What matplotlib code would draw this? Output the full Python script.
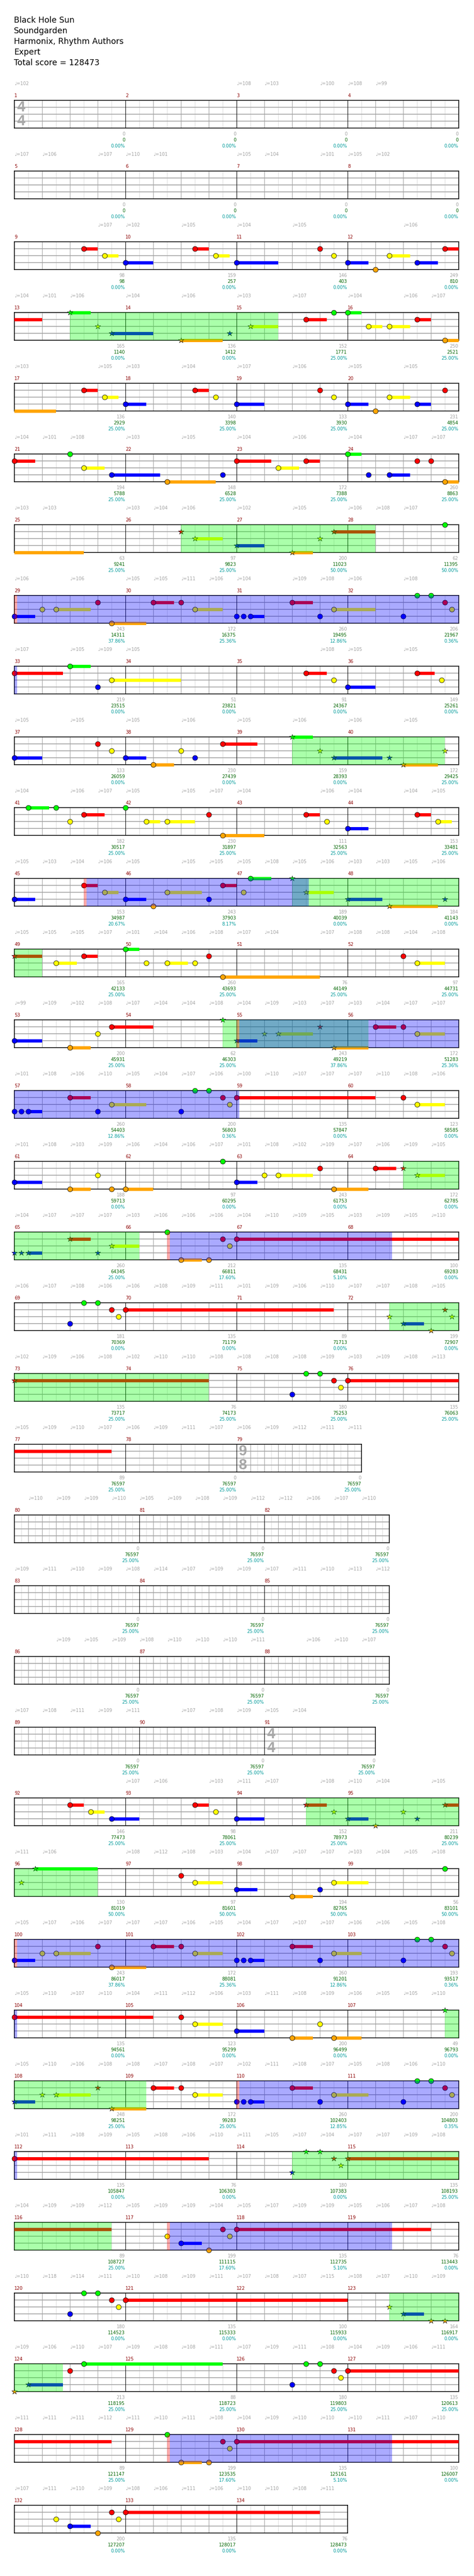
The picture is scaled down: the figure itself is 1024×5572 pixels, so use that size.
import matplotlib.pyplot as plt

# ---- song info ----
title_lines = ["Black Hole Sun", "Soundgarden", "Harmonix, Rhythm Authors", "Expert",
               "Total score = 128473"]

n_measures = 134
time_sigs = {1: (4, 4), 79: (9, 8), 91: (4, 4)}

# lanes: 0 green, 1 red, 2 yellow, 3 blue, 4 orange
lane_colors = ['#00ff00', '#ff0000', '#ffff00', '#0000ff', '#ffa500']

# notes: (measure, beat, lane, sustain length in beats)
notes = [
    (9, 2.5, 1, 0.5), (9, 3.25, 2, 0.5), (10, 0, 3, 1), (10, 2.5, 1, 0.5), (10, 3.25, 2, 0.5),
    (11, 0, 3, 1.5), (11, 3, 1, 0), (11, 3.5, 2, 0), (12, 0, 3, 0.75), (12, 1, 4, 0),
    (12, 1.5, 2, 0.75), (12, 2.5, 3, 0.75), (12, 3.5, 1, 1.5),
    (13, 2, 0, 0.75), (13, 3, 2, 0), (13, 3.5, 3, 1.5), (14, 2, 4, 1.5), (14, 3.75, 3, 0),
    (15, 0.5, 2, 1), (15, 2.5, 1, 0.75), (15, 3.5, 0, 0), (16, 0, 0, 0.5), (16, 0.75, 2, 0.5),
    (16, 1.5, 2, 0.75), (16, 2.5, 1, 0.5), (16, 3.5, 4, 2.0),
    (17, 2.5, 1, 0.5), (17, 3.25, 2, 0.5), (18, 0, 3, 0.75), (18, 2.5, 1, 0.5), (18, 3.25, 2, 0),
    (19, 0, 3, 1), (19, 3, 1, 0), (19, 3.5, 2, 0), (20, 0, 3, 0.75), (20, 1, 4, 0),
    (20, 1.5, 2, 0.75), (20, 2.5, 3, 0.5), (20, 3.5, 1, 0),
    (21, 0, 1, 0.75), (21, 2, 0, 0), (21, 2.5, 2, 0.75), (21, 3.5, 3, 1.75), (22, 1.5, 4, 1.75),
    (22, 3.5, 3, 0), (23, 0, 1, 1.25), (23, 1.5, 2, 0.75), (23, 2.5, 1, 0.5), (24, 0, 0, 0.5),
    (24, 0.75, 3, 0), (24, 1.5, 3, 0.75), (24, 2.5, 1, 0), (24, 3, 1, 0), (24, 3.5, 4, 3.0),
    (26, 2, 1, 0), (26, 2.5, 2, 1), (27, 0, 3, 1), (27, 2, 4, 0.75), (27, 3, 2, 0),
    (27, 3.5, 1, 1.5), (28, 3.5, 0, 0),
    (29, 0, 3, 0.75), (29, 1, 2, 0), (29, 1.5, 2, 1.25), (29, 3, 1, 0), (29, 3.5, 4, 1.25),
    (30, 1, 1, 0.75), (30, 2, 1, 0), (30, 2.5, 2, 1), (31, 0, 3, 0), (31, 0.25, 3, 0),
    (31, 0.5, 3, 0.5), (31, 2, 1, 0.75), (31, 3, 3, 0), (31, 3.5, 2, 1.5), (32, 2, 3, 0),
    (32, 2.5, 0, 0), (32, 3, 0, 0), (32, 3.5, 1, 0), (32, 3.75, 2, 0),
    (33, 0, 1, 1.75), (33, 2, 0, 0.75), (33, 3, 3, 0), (33, 3.5, 2, 2.5), (35, 2.5, 1, 0.75),
    (35, 3.5, 2, 0), (36, 0, 3, 1), (36, 2.5, 1, 0.625), (36, 3.375, 2, 0),
    (37, 0, 3, 1), (37, 3, 1, 0), (37, 3.5, 2, 0), (38, 0, 3, 0.75), (38, 1, 4, 0.75),
    (38, 2, 2, 0), (38, 2.5, 3, 0), (38, 3.5, 1, 1.25), (39, 2, 0, 0.75), (39, 3, 2, 0),
    (39, 3.5, 3, 1.75), (40, 1.5, 3, 0), (40, 2, 4, 1.25), (40, 3.5, 2, 0),
    (41, 0.5, 0, 0.75), (41, 1.5, 0, 0), (41, 2, 2, 0), (41, 2.5, 1, 0.75), (42, 0, 0, 0),
    (42, 0.75, 2, 0.5), (42, 1.5, 2, 1), (42, 3, 1, 0), (42, 3.5, 4, 1.5), (43, 2.5, 1, 0.5),
    (43, 3.25, 2, 0), (44, 0, 3, 0.75), (44, 2.5, 1, 0.5), (44, 3.25, 2, 0.5),
    (45, 0, 3, 0.75), (45, 2.5, 1, 0.5), (45, 3.25, 2, 0.5), (46, 0, 3, 0.75), (46, 1, 4, 0),
    (46, 1.5, 2, 1.25), (46, 3, 3, 0), (46, 3.5, 1, 0.5), (47, 0.25, 2, 0), (47, 0.5, 0, 0.75),
    (47, 2, 0, 0), (47, 2.5, 2, 1), (48, 0, 3, 1.25), (48, 1.5, 4, 1.75), (48, 3.5, 3, 0),
    (49, 0, 1, 1), (49, 1.5, 2, 0.75), (49, 2.5, 1, 0.5), (50, 0, 0, 0.5), (50, 0.75, 2, 0),
    (50, 1.5, 2, 0.75), (50, 2.5, 2, 0), (50, 3, 1, 0), (50, 3.5, 4, 3.5), (52, 2, 1, 0),
    (52, 2.5, 2, 1),
    (53, 0, 3, 1), (53, 2, 4, 0.75), (53, 3, 2, 0), (53, 3.5, 1, 1.5), (54, 3.5, 0, 0),
    (55, 0, 3, 0.75), (55, 1, 2, 0), (55, 1.5, 2, 1.25), (55, 3, 1, 0), (55, 3.5, 4, 1.25),
    (56, 1, 1, 0.75), (56, 2, 1, 0), (56, 2.5, 2, 1),
    (57, 0, 3, 0), (57, 0.25, 3, 0), (57, 0.5, 3, 0.5), (57, 2, 1, 0.75), (57, 3, 3, 0),
    (57, 3.5, 2, 1.25), (58, 2, 3, 0), (58, 2.5, 0, 0), (58, 3, 0, 0), (58, 3.5, 1, 0),
    (58, 3.75, 2, 0), (59, 0, 1, 5), (60, 2, 1, 0), (60, 2.5, 2, 1),
    (61, 0, 3, 1), (61, 2, 4, 0.75), (61, 3, 2, 0), (61, 3.5, 4, 0), (62, 0, 4, 1),
    (62, 3.5, 0, 0), (63, 0, 3, 0.75), (63, 1, 2, 0), (63, 1.5, 2, 1.25), (63, 3, 1, 0),
    (63, 3.5, 4, 1.25), (64, 1, 1, 0.75), (64, 2, 1, 0), (64, 2.5, 2, 1),
    (65, 0, 3, 0), (65, 0.25, 3, 0), (65, 0.5, 3, 0.5), (65, 2, 1, 0.75), (65, 3, 3, 0),
    (65, 3.5, 2, 1), (66, 1.5, 0, 0), (66, 2, 4, 0.75), (66, 3, 4, 0), (66, 3.5, 1, 0),
    (66, 3.75, 2, 0), (67, 0, 1, 8),
    (69, 2, 3, 0), (69, 2.5, 0, 0), (69, 3, 0, 0), (69, 3.5, 1, 0), (69, 3.75, 2, 0),
    (70, 0, 1, 7.5), (72, 1.5, 2, 0), (72, 2, 3, 0.75), (72, 3, 4, 0), (72, 3.5, 1, 0),
    (72, 3.75, 2, 0),
    (73, 0, 1, 7), (75, 2, 3, 0), (75, 2.5, 0, 0), (75, 3, 0, 0), (75, 3.5, 1, 0),
    (75, 3.75, 2, 0), (76, 0, 1, 7.5),
    (92, 2, 1, 0.5), (92, 2.75, 2, 0.5), (92, 3.5, 3, 1), (93, 2.5, 1, 0.5), (93, 3.25, 2, 0),
    (94, 0, 3, 1), (94, 2.5, 1, 0.75), (94, 3.5, 2, 0), (95, 0, 3, 0.75), (95, 1, 4, 0),
    (95, 2, 2, 0), (95, 2.5, 3, 0), (95, 3.5, 1, 0.5),
    (96, 0.25, 2, 0), (96, 0.75, 0, 2.25), (97, 2, 1, 0), (97, 2.5, 2, 1), (98, 0, 3, 0.75),
    (98, 2, 4, 0.75), (98, 3, 3, 0), (98, 3.5, 2, 1.25), (99, 3.5, 0, 0),
    (100, 0, 3, 0.75), (100, 1, 2, 0), (100, 1.5, 2, 1.25), (100, 3, 1, 0), (100, 3.5, 4, 1.25),
    (101, 1, 1, 0.75), (101, 2, 1, 0), (101, 2.5, 2, 1), (102, 0, 3, 0), (102, 0.25, 3, 0),
    (102, 0.5, 3, 0.5), (102, 2, 1, 0.75), (102, 3, 3, 0), (102, 3.5, 2, 1), (103, 2, 3, 0),
    (103, 2.5, 0, 0), (103, 3, 0, 0), (103, 3.5, 1, 0), (103, 3.75, 2, 0),
    (104, 0, 1, 5), (105, 2, 1, 0), (105, 2.5, 2, 1), (106, 0, 3, 1), (106, 2, 4, 0.75),
    (106, 3, 2, 0), (106, 3.5, 4, 1), (107, 3.5, 0, 0),
    (108, 0, 3, 0.75), (108, 1, 2, 0), (108, 1.5, 2, 1.25), (108, 3, 1, 0), (108, 3.5, 4, 1.25),
    (109, 1, 1, 0.75), (109, 2, 1, 0), (109, 2.5, 2, 1), (110, 0, 3, 0), (110, 0.25, 3, 0),
    (110, 0.5, 3, 0.5), (110, 2, 1, 0.75), (110, 3, 3, 0), (110, 3.5, 2, 1.25), (111, 2, 3, 0),
    (111, 2.5, 0, 0), (111, 3, 0, 0), (111, 3.5, 1, 0), (111, 3.75, 2, 0),
    (112, 0, 1, 7), (114, 2, 3, 0), (114, 2.5, 0, 0), (114, 3, 0, 0), (114, 3.5, 1, 0),
    (114, 3.75, 2, 0), (115, 0, 1, 7.5),
    (117, 1.5, 2, 0), (117, 2, 3, 0.75), (117, 3, 4, 0), (117, 3.5, 1, 0), (117, 3.75, 2, 0),
    (118, 0, 1, 7),
    (120, 2, 3, 0), (120, 2.5, 0, 0), (120, 3, 0, 0), (120, 3.5, 1, 0), (120, 3.75, 2, 0),
    (121, 0, 1, 8), (123, 1.5, 2, 0), (123, 2, 3, 0.75), (123, 3, 4, 0), (123, 3.5, 4, 0),
    (124, 0, 4, 0), (124, 0.5, 3, 1.25), (124, 2, 1, 0), (124, 2.5, 0, 5), (126, 2, 3, 0),
    (126, 2.5, 0, 0), (126, 3, 0, 0), (126, 3.5, 1, 0), (126, 3.75, 2, 0), (127, 0, 1, 7.5),
    (129, 1.5, 0, 0), (129, 2, 4, 0.75), (129, 3, 4, 0), (129, 3.5, 1, 0), (129, 3.75, 2, 0),
    (130, 0, 1, 8),
    (132, 1.5, 2, 0), (132, 2, 3, 0.75), (132, 3, 4, 0), (132, 3.5, 1, 0), (132, 3.75, 2, 0),
    (133, 0, 1, 7),
]

# star power phrases and overdrive activations: ((measure, beat), (measure, beat))
sp_phrases = [((13, 2), (15, 1.5)), ((26, 2), (28, 1)), ((39, 2), (40, 3.5)), ((47, 2), (49, 1)),
              ((54, 3.5), (56, 0.75)), ((64, 2), (66, 0.5)), ((72, 1.5), (74, 3)),
              ((94, 2.5), (96, 3)), ((107, 3.5), (109, 0.75)), ((114, 2), (116, 3.5)),
              ((123, 1.5), (124, 1.75))]
activations = [((29, 0), (33, 0.1)), ((45, 2.5), (47, 2.6)), ((55, 0), (59, 0.1)),
               ((66, 1.5), (68, 1.6)), ((100, 0), (104, 0.1)), ((110, 0), (112, 0.1)),
               ((117, 1.5), (119, 1.6)), ((129, 1.5), (131, 1.6))]

# tempo marks: (measure, beat offsets from that measure, bpm)
T16 = list(range(16))
tempo_marks = [
    (1, [0, 8, 9, 11, 12, 13], [102, 108, 103, 100, 108, 99]),
    (5, [0, 1, 3, 4, 5, 8, 9, 11, 12, 13], [107, 106, 107, 110, 101, 105, 104, 101, 105, 102]),
    (9, [3, 4, 6, 8, 10, 14], [107, 102, 105, 104, 105, 106]),
    (13, [0, 1, 2, 4, 6, 8, 10, 12, 14, 15], [104, 101, 106, 104, 106, 103, 107, 104, 106, 107]),
    (17, [0, 3, 4, 6, 8, 10, 12, 14], [103, 105, 103, 104, 107, 106, 105, 105]),
    (21, [0, 1, 2, 4, 6, 8, 10, 12, 14, 15], [104, 101, 108, 103, 105, 104, 106, 104, 107, 107]),
    (25, [0, 1, 4, 5, 6, 8, 10, 12, 13, 14], [103, 103, 103, 104, 106, 102, 105, 106, 108, 107]),
    (29, [0, 2, 4, 5, 6, 7, 8, 10, 11, 12, 14], [106, 106, 105, 105, 111, 106, 104, 109, 108, 106, 108]),
    (33, [0, 2, 3, 4, 11, 12, 14], [107, 105, 109, 105, 108, 105, 105]),
    (37, [0, 2, 4, 6, 8, 10, 12, 14], [105, 105, 105, 106, 105, 106, 106, 105]),
    (41, [0, 2, 3, 4, 6, 7, 8, 11, 12, 14, 15], [104, 106, 107, 105, 105, 107, 104, 106, 104, 104, 105]),
    (45, [0, 1, 2, 3, 4, 6, 7, 8, 9, 10, 11, 12, 13, 14, 15],
     [105, 103, 104, 106, 105, 105, 105, 105, 108, 105, 106, 103, 103, 105, 106]),
    (49, [0, 1, 2, 3, 4, 5, 6, 7, 8, 9, 11, 12, 13, 14, 15],
     [105, 105, 105, 107, 101, 104, 106, 108, 107, 104, 107, 108, 108, 104, 108]),
    (53, T16, [99, 109, 102, 108, 107, 104, 104, 108, 104, 109, 103, 107, 103, 104, 107, 107]),
    (57, T16, [101, 108, 106, 110, 105, 104, 107, 106, 100, 110, 107, 107, 107, 110, 108, 106]),
    (61, T16, [101, 108, 103, 109, 106, 104, 106, 107, 101, 108, 102, 109, 107, 106, 109, 105]),
    (65, T16, [104, 107, 107, 107, 103, 106, 106, 106, 104, 110, 109, 105, 103, 109, 105, 110]),
    (69, T16, [106, 107, 108, 106, 106, 108, 109, 111, 101, 109, 106, 110, 107, 107, 108, 105]),
    (73, T16, [102, 109, 106, 108, 102, 110, 110, 108, 108, 108, 108, 109, 103, 109, 108, 113]),
    (77, [0, 1, 2, 3, 4, 5, 6, 7, 8, 9, 10, 11, 12],
     [105, 109, 110, 107, 106, 109, 111, 107, 106, 109, 112, 111, 111]),
    (80, [0.5, 1.5, 2.5, 3.5, 4.5, 5.5, 6.5, 7.5, 8.5, 9.5, 10.5, 11.5, 12.5],
     [110, 109, 109, 110, 105, 109, 108, 109, 112, 112, 106, 107, 110]),
    (83, [0, 1, 2, 3, 4, 5, 6, 7, 8, 9, 10, 11, 12, 13],
     [109, 111, 110, 109, 108, 114, 107, 109, 109, 107, 111, 110, 113, 112]),
    (86, [1.5, 2.5, 3.5, 4.5, 5.5, 6.5, 7.5, 8.5, 10.5, 11.5, 12.5],
     [109, 105, 109, 108, 110, 110, 110, 111, 106, 110, 107]),
    (89, [0, 1, 2, 3, 4, 6, 7, 8, 9, 10], [107, 108, 111, 109, 111, 107, 108, 109, 105, 104]),
    (92, [4, 5, 7, 8, 9, 11, 12, 13, 15], [107, 106, 103, 111, 107, 108, 110, 104, 105]),
    (96, [0, 1, 4, 5, 6, 7, 8, 9, 10, 11, 12, 13, 14, 15],
     [111, 106, 108, 112, 108, 103, 104, 107, 107, 107, 103, 104, 105, 108]),
    (100, T16, [105, 107, 106, 107, 107, 107, 106, 105, 104, 107, 107, 107, 106, 106, 105, 108]),
    (104, T16, [105, 110, 107, 110, 104, 111, 112, 106, 103, 111, 108, 109, 106, 105, 105, 110]),
    (108, T16, [105, 110, 106, 108, 108, 107, 108, 107, 102, 111, 108, 107, 105, 108, 106, 110]),
    (112, T16, [101, 111, 108, 109, 105, 108, 106, 110, 111, 105, 107, 104, 107, 107, 109, 108]),
    (116, T16, [104, 109, 109, 112, 105, 109, 109, 104, 105, 107, 109, 109, 105, 106, 107, 108]),
    (120, T16, [110, 118, 114, 111, 110, 108, 109, 111, 107, 108, 107, 115, 108, 107, 110, 109]),
    (124, T16, [109, 106, 110, 107, 109, 108, 108, 111, 107, 109, 111, 108, 104, 109, 106, 111]),
    (128, T16, [111, 111, 111, 112, 111, 110, 111, 108, 104, 109, 110, 110, 110, 111, 107, 110]),
    (132, [0, 1, 2, 3, 4, 5, 6, 7, 8, 9, 10, 11],
     [107, 111, 110, 109, 108, 106, 111, 106, 110, 110, 108, 111]),
]

# per-measure score, running total, star power percentage
meas_score = [0] * 8 + [
    98, 159, 146, 249, 165, 136, 152, 250, 136, 140, 133, 231, 194, 148, 172, 260,
    63, 97, 200, 62, 243, 172, 260, 206, 219, 51, 91, 149, 133, 230, 159, 172,
    182, 230, 111, 153, 153, 243, 189, 184, 165, 260, 76, 97, 200, 62, 243, 172,
    260, 200, 135, 123, 188, 97, 243, 172, 260, 212, 135, 100, 181, 135, 89, 199,
    135, 76, 180, 135, 89] + [0] * 14 + [
    146, 98, 152, 211, 130, 97, 194, 56, 243, 172, 260, 193, 135, 123, 200, 49,
    248, 172, 260, 200, 135, 76, 180, 135, 89, 199, 135, 76, 180, 135, 100, 164,
    213, 88, 180, 135, 89, 199, 135, 100, 200, 135, 76]
total_score = [0] * 8 + [
    98, 257, 403, 810, 1140, 1412, 1771, 2521, 2929, 3398, 3930, 4854,
    5788, 6528, 7388, 8863, 9241, 9823, 11023, 11395, 14311, 16375, 19495, 21967,
    23515, 23821, 24367, 25261, 26059, 27439, 28393, 29425, 30517, 31897, 32563, 33481,
    34987, 37903, 40039, 41143, 42133, 43693, 44149, 44731, 45931, 46303, 49219, 51283,
    54403, 56803, 57847, 58585, 59713, 60295, 61753, 62785, 64345, 66811, 68431, 69283,
    70369, 71179, 71713, 72907, 73717, 74173, 75253, 76063, 76597] + [76597] * 14 + [
    77473, 78061, 78973, 80239, 81019, 81601, 82765, 83101, 86017, 88081, 91201, 93517,
    94561, 95299, 96499, 96793, 98251, 99283, 102403, 104803, 105847, 106303, 107383, 108193,
    108727, 111115, 112735, 113443, 114523, 115333, 115933, 116917, 118195, 118723, 119803, 120613,
    121147, 123535, 125161, 126007, 127207, 128017, 128473]
sp_pct = ([0] * 14 + [25] * 12 + [50, 50] + [37.86, 25.36, 12.86, 0.36] + [0] * 7 + [25] * 5
          + [20.67, 8.17, 0, 0] + [25] * 6 + [37.86, 25.36, 12.86, 0.36] + [0] * 6
          + [25, 17.60, 5.10, 0] + [0] * 4 + [25] * 23 + [50] * 4 + [37.86, 25.36, 12.86, 0.36]
          + [0] * 4 + [25, 25, 12.85, 0.35] + [0, 0, 0, 25] + [25, 17.60, 5.10, 0] + [0] * 4
          + [25] * 5 + [17.60, 5.10, 0] + [0] * 3)

# ---- layout ----
W, H = 1024, 5572
LEFT, TOP0, PITCH = 31.3, 217.3, 153.0
PX_BEAT, STAFF_H, PX_LANE = 60.0, 60.0, 15.0
ROW_BEATS = 16
FS = 7.0
GRAY = '#a0a0a0'

meas_len = {}
meas_start = {}
cur_len, pos = 4.0, 0.0
for m in range(1, n_measures + 1):
    if m in time_sigs:
        num, den = time_sigs[m]
        cur_len = num * 4.0 / den
    meas_len[m] = cur_len
    meas_start[m] = pos
    pos += cur_len


def abs_beat(m, b):
    return meas_start[m] + b


rows = []
row, width = [], 0.0
for m in range(1, n_measures + 1):
    if row and width + meas_len[m] > ROW_BEATS + 1e-9:
        rows.append(row)
        row, width = [], 0.0
    row.append(m)
    width += meas_len[m]
rows.append(row)

phr = [(abs_beat(*a), abs_beat(*b)) for a, b in sp_phrases]
act = [(abs_beat(*a), abs_beat(*b)) for a, b in activations]
tempos = [(abs_beat(m, o), bpm) for m, offs, bpms in tempo_marks for o, bpm in zip(offs, bpms)]

fig = plt.figure(figsize=(W / 100, H / 100), dpi=100)
plt.rcParams['font.family'] = ['DejaVu Sans']

for i, line in enumerate(title_lines):
    fig.text((LEFT - 1) / W, 1 - (49 + 23 * i) / H, line, fontsize=12.5, va='baseline', ha='left')


def off(px):
    return px / PX_LANE


for r, row in enumerate(rows):
    top = TOP0 + PITCH * r
    rb0 = meas_start[row[0]]
    rb1 = meas_start[row[-1]] + meas_len[row[-1]]
    nb = rb1 - rb0
    ax = fig.add_axes([LEFT / W, 1 - (top + STAFF_H) / H, nb * PX_BEAT / W, STAFF_H / H])
    ax.set_xlim(0, nb)
    ax.set_ylim(4, 0)
    ax.set_xticks([])
    ax.set_yticks([])
    for s in ax.spines.values():
        s.set_linewidth(1.2)
        s.set_color('black')
        s.set_zorder(2)

    light, beats, bars = [], [], []
    for m in row:
        ms = meas_start[m] - rb0
        L = meas_len[m]
        step = 1.0 if L == 4.0 else 0.5
        k = 0
        while k * step / 2 < L - 1e-9:
            x = ms + k * step / 2
            if k == 0:
                bars.append(x)
            elif k % 2 == 0:
                beats.append(x)
            else:
                light.append(x)
            k += 1
        ax.text(ms, -off(7.3), str(m), color='#8b0000', fontsize=FS, va='baseline', ha='left')
        xe = ms + L - 0.02
        ax.text(xe, 4 + off(15.4), str(meas_score[m - 1]), color=GRAY, fontsize=FS,
                ha='right', va='baseline')
        ax.text(xe, 4 + off(28.7), str(total_score[m - 1]), color='#006400', fontsize=FS,
                ha='right', va='baseline')
        ax.text(xe, 4 + off(41.7), '%.2f%%' % sp_pct[m - 1], color='#009a9a', fontsize=FS,
                ha='right', va='baseline')
        if m in time_sigs:
            num, den = time_sigs[m]
            for txt, yy in ((num, 1.07), (den, 3.07)):
                ax.text(ms + 0.08, yy, str(txt), color='#a8a8a8', fontsize=23,
                        family='Liberation Sans', fontweight='bold', ha='left', va='center',
                        zorder=2.2)
    ax.vlines(light, 0, 4, color='#dcdcdc', lw=0.8, zorder=1)
    ax.vlines(beats, 0, 4, color=GRAY, lw=0.8, zorder=1.1)
    ax.vlines([b for b in bars if b > 0], 0, 4, color='black', lw=0.8, zorder=1.3)
    ax.hlines([1, 2, 3], 0, nb, color=GRAY, lw=1.2, zorder=1.2)

    for tb, bpm in tempos:
        if rb0 - 1e-9 <= tb < rb1 - 1e-9:
            ax.text(tb - rb0, -off(33), '\u2669=%d' % bpm, color=GRAY, fontsize=FS,
                    ha='left', va='baseline')

    # sustains and gems
    for m, b, lane, length in notes:
        a = abs_beat(m, b)
        c = lane_colors[lane]
        if length > 0:
            s0, s1 = max(a, rb0), min(a + length, rb1)
            if s1 > s0:
                ax.barh(lane, s1 - s0, left=s0 - rb0, height=0.45, color=c, lw=0,
                        zorder=3, clip_on=False)
        if rb0 - 1e-9 <= a < rb1 - 1e-9:
            star = any(p0 - 0.01 <= a <= p1 + 0.01 for p0, p1 in phr)
            if star:
                ax.plot(a - rb0, lane, marker='*', ms=9, mfc=c, mec='black', mew=0.5,
                        ls='none', zorder=5, clip_on=False)
            else:
                ax.plot(a - rb0, lane, marker='o', ms=7.8, mfc=c, mec='black', mew=0.6,
                        ls='none', zorder=5, clip_on=False)

    # overlays
    for p0, p1 in phr:
        s0, s1 = max(p0, rb0), min(p1, rb1)
        if s1 > s0:
            ax.axvspan(s0 - rb0, s1 - rb0, facecolor='#00ff00', alpha=1 / 3, lw=0, zorder=10)
    for a0, a1 in act:
        for c, (u0, u1) in (('#ff0000', (a0, a0 + 0.1)), ('#0000ff', (a0 + 0.1, a1))):
            s0, s1 = max(u0, rb0), min(u1, rb1)
            if s1 > s0:
                ax.axvspan(s0 - rb0, s1 - rb0, facecolor=c, alpha=1 / 3, lw=0, zorder=10)

fig.savefig('out.png', dpi=100)
